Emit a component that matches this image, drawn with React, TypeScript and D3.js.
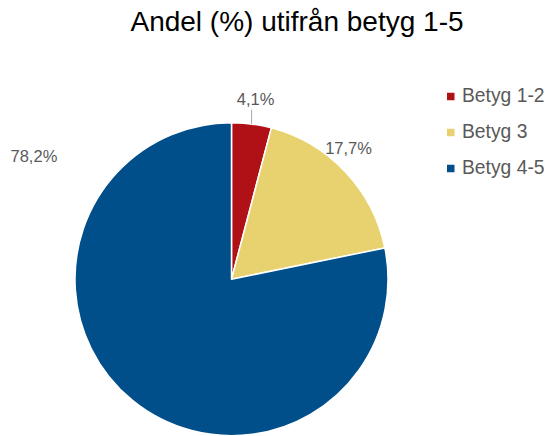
import React, { useEffect, useRef } from 'react';
import * as d3 from 'd3';

const categories = ['Betyg 1-2', 'Betyg 3', 'Betyg 4-5'];
const shares = [4.1, 17.7, 78.2];
const valueLabels = ['4,1%', '17,7%', '78,2%'];
const colors = ['#B01116', '#E8D270', '#004F8A'];

// where each percent label sits: angle (deg, clockwise from top) and radius from pie centre
const labelAngles = [7.6, 41.7, 302];
const labelRadii = [182, 176, 233];

const W = 549;
const H = 436;

export default function App() {
  const svgRef = useRef<SVGSVGElement>(null);

  useEffect(() => {
    if (!svgRef.current) return;
    const svg = d3.select(svgRef.current);
    svg.selectAll('*').remove();

    const cx = 231.5;
    const cy = 279.2;
    const r = 156.5;
    const font = 'Arial, "Liberation Sans", sans-serif';

    svg.append('text')
      .attr('x', 297)
      .attr('y', 31)
      .attr('text-anchor', 'middle')
      .attr('font-family', font)
      .attr('font-size', 28)
      .attr('fill', '#000')
      .text('Andel (%) utifrån betyg 1-5');

    const pie = d3.pie<number>().sort(null).value(d => d);
    const arcs = pie(shares);
    const arc = d3.arc<d3.PieArcDatum<number>>().innerRadius(0).outerRadius(r);

    const g = svg.append('g').attr('transform', `translate(${cx},${cy})`);

    g.selectAll('path.slice')
      .data(arcs)
      .join('path')
      .attr('class', 'slice')
      .attr('d', arc)
      .attr('fill', (_, i) => colors[i])
      .attr('stroke', '#fff')
      .attr('stroke-width', 1.5)
      .attr('stroke-linejoin', 'round');

    const polar = (deg: number, rad: number): [number, number] => {
      const a = (deg * Math.PI) / 180;
      return [rad * Math.sin(a), -rad * Math.cos(a)];
    };

    // leader line for the small slice
    const mid0 = (arcs[0].startAngle + arcs[0].endAngle) / 2;
    const edge: [number, number] = [r * Math.sin(mid0), -r * Math.cos(mid0)];
    const [, ly0] = polar(labelAngles[0], labelRadii[0]);
    g.append('line')
      .attr('x1', edge[0])
      .attr('y1', edge[1])
      .attr('x2', edge[0])
      .attr('y2', ly0 + 11)
      .attr('stroke', '#A6A6A6')
      .attr('stroke-width', 1);

    g.selectAll('text.val')
      .data(valueLabels)
      .join('text')
      .attr('class', 'val')
      .attr('x', (_, i) => polar(labelAngles[i], labelRadii[i])[0])
      .attr('y', (_, i) => polar(labelAngles[i], labelRadii[i])[1])
      .attr('dy', '0.36em')
      .attr('text-anchor', 'middle')
      .attr('font-family', font)
      .attr('font-size', 16.5)
      .attr('fill', '#595959')
      .text(d => d);

    const legendY = d3.scalePoint<string>().domain(categories).range([96.5, 168.5]);
    const legend = svg.append('g');
    const rows = legend.selectAll('g')
      .data(categories)
      .join('g')
      .attr('transform', d => `translate(447,${legendY(d)})`);
    rows.append('rect')
      .attr('x', 0)
      .attr('y', -3.75)
      .attr('width', 7.5)
      .attr('height', 7.5)
      .attr('fill', (_, i) => colors[i]);
    rows.append('text')
      .attr('x', 15)
      .attr('y', 0)
      .attr('dy', '0.3em')
      .attr('font-family', font)
      .attr('font-size', 19.3)
      .attr('fill', '#595959')
      .text(d => d);
  }, []);

  return (
    <svg
      ref={svgRef}
      width={W}
      height={H}
      style={{ position: 'absolute', left: 0, top: 0, background: '#fff' }}
    />
  );
}
